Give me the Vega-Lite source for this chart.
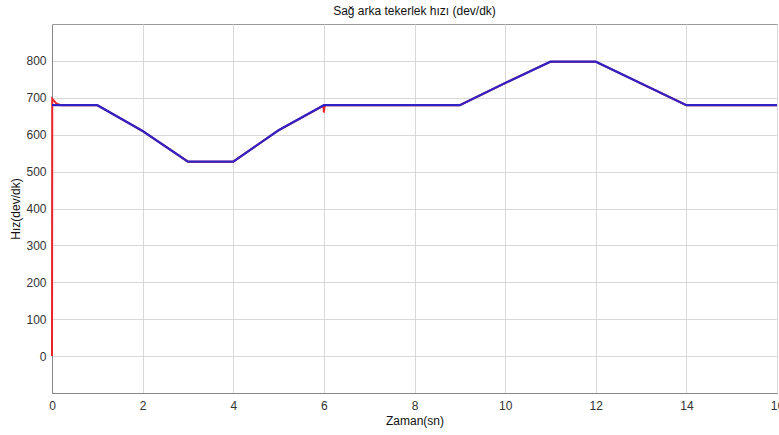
{
  "$schema": "https://vega.github.io/schema/vega-lite/v6.json",
  "width": 725,
  "height": 369,
  "autosize": {"type": "none"},
  "padding": {"left": 52, "top": 24, "right": 2, "bottom": 42},
  "background": "white",
  "title": {"text": "Sağ arka tekerlek hızı (dev/dk)", "font": "Liberation Sans", "fontSize": 12, "fontWeight": "normal", "color": "#111", "offset": 6},
  "config": {
    "view": {"stroke": "#999", "strokeWidth": 1},
    "axis": {"labelFont": "Liberation Sans", "titleFont": "Liberation Sans", "labelFontSize": 12, "titleFontSize": 12, "titleFontWeight": "normal", "labelColor": "#333", "titleColor": "#111", "gridColor": "#d8d8d8", "domainColor": "#888", "ticks": false, "labelFlush": false}
  },
  "datasets": {
    "blue": [
      {"t": 0, "v": 680}, {"t": 1, "v": 680}, {"t": 2, "v": 610}, {"t": 3, "v": 527}, {"t": 4, "v": 527},
      {"t": 5, "v": 612}, {"t": 6, "v": 680}, {"t": 9, "v": 680}, {"t": 10, "v": 740}, {"t": 11, "v": 798},
      {"t": 12, "v": 798}, {"t": 14, "v": 680}, {"t": 16, "v": 680}
    ],
    "red": [
      {"t": 0, "v": 0}, {"t": 0.005, "v": 697}, {"t": 0.1, "v": 684}, {"t": 0.2, "v": 680}, {"t": 1, "v": 680},
      {"t": 2, "v": 610}, {"t": 3, "v": 527}, {"t": 4, "v": 527}, {"t": 5, "v": 612}, {"t": 5.99, "v": 679},
      {"t": 6, "v": 660}, {"t": 6.02, "v": 680}, {"t": 9, "v": 680}, {"t": 10, "v": 740}, {"t": 11, "v": 798},
      {"t": 12, "v": 798}, {"t": 14, "v": 680}, {"t": 16, "v": 680}
    ]
  },
  "encoding": {
    "x": {"field": "t", "type": "quantitative", "scale": {"domain": [0, 16], "nice": false}, "axis": {"title": "Zaman(sn)", "values": [0, 2, 4, 6, 8, 10, 12, 14, 16], "labelPadding": 7, "titlePadding": 4}},
    "y": {"field": "v", "type": "quantitative", "scale": {"domain": [-100, 900], "nice": false}, "axis": {"title": "Hız(dev/dk)", "values": [0, 100, 200, 300, 400, 500, 600, 700, 800], "labelPadding": 6, "titlePadding": 3}}
  },
  "layer": [
    {"data": {"name": "red"}, "mark": {"type": "line", "color": "#e8242a", "strokeWidth": 2}},
    {"data": {"name": "blue"}, "mark": {"type": "line", "color": "#3022c4", "strokeWidth": 2.2}}
  ]
}
